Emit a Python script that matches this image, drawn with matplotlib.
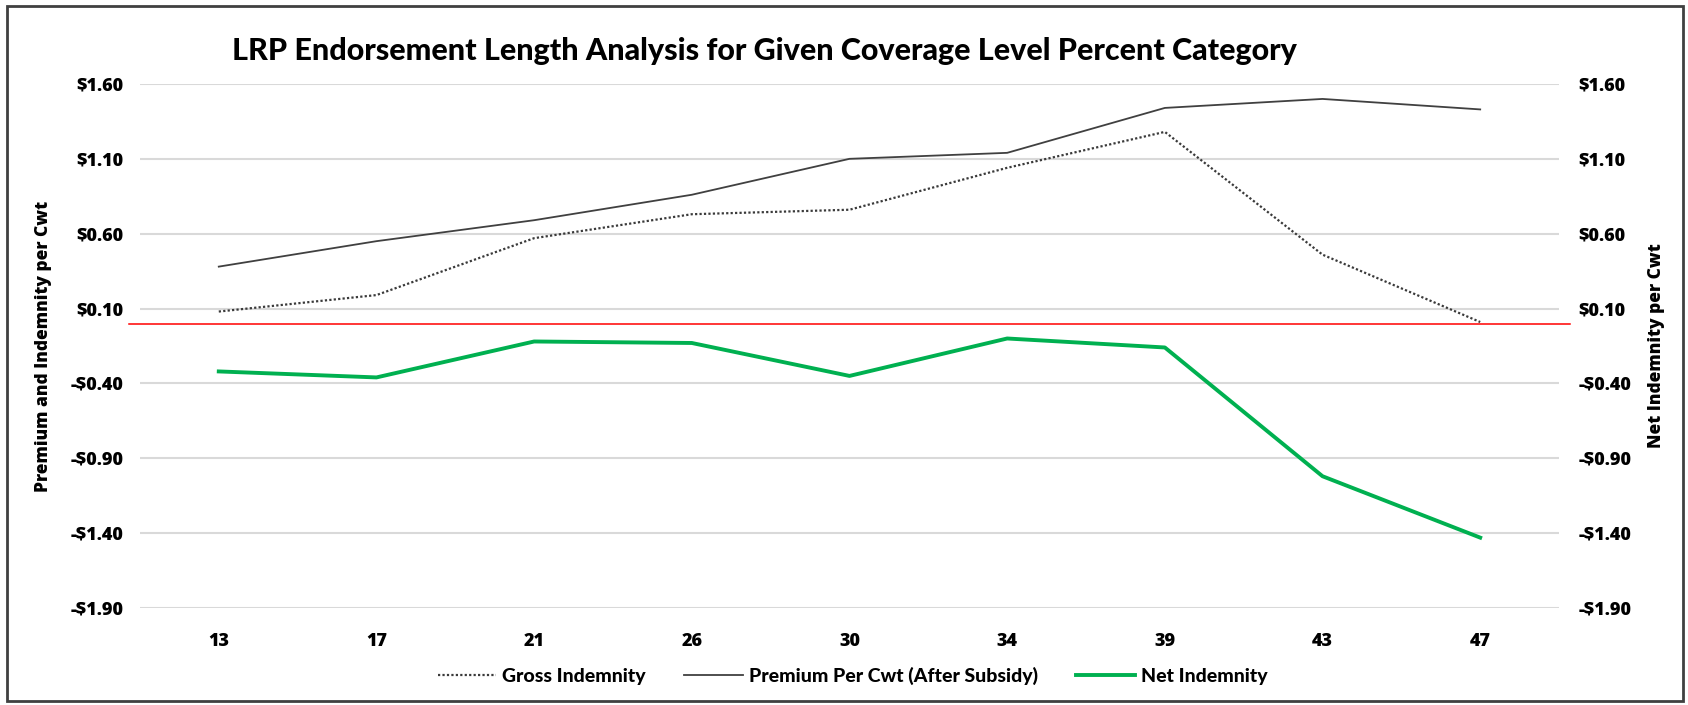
import matplotlib
matplotlib.use('Agg')
import matplotlib.pyplot as plt
import matplotlib.transforms as mtransforms
from matplotlib.patches import Rectangle
from matplotlib.ticker import FuncFormatter

# Endorsement length (weeks) and per-cwt values
lengths = ['13', '17', '21', '26', '30', '34', '39', '43', '47']
gross_indemnity = [0.08, 0.19, 0.57, 0.73, 0.76, 1.04, 1.28, 0.46, 0.01]
premium_per_cwt = [0.38, 0.55, 0.69, 0.86, 1.10, 1.14, 1.44, 1.50, 1.43]
net_indemnity = [-0.32, -0.36, -0.12, -0.13, -0.35, -0.10, -0.16, -1.02, -1.43]

y_ticks = [-1.90, -1.40, -0.90, -0.40, 0.10, 0.60, 1.10, 1.60]

plt.rcParams['font.family'] = ['Open Sans', 'DejaVu Sans']
plt.rcParams['font.weight'] = 'heavy'

fig = plt.figure(figsize=(16.88, 7.05), dpi=100)
ax = fig.add_axes([0.0829, 0.1376, 0.8407, 0.7433])

x = list(range(len(lengths)))
ax.plot(x, gross_indemnity, color='#3a3a3a', linestyle=(0, (1, 1)), linewidth=1.6,
        label='Gross Indemnity', zorder=3)
ax.plot(x, premium_per_cwt, color='#404040', linewidth=1.3,
        label='Premium Per Cwt (After Subsidy)', zorder=3)

ax2 = ax.twinx()
ax2.plot(x, net_indemnity, color='#00B050', linewidth=2.8, label='Net Indemnity', zorder=3)

def money(v, pos):
    return f'-${abs(v):.2f}' if v < 0 else f'${v:.2f}'

for a in (ax, ax2):
    a.set_xlim(-0.5, len(lengths) - 0.5)
    a.set_ylim(-1.90, 1.60)
    a.set_yticks(y_ticks)
    a.yaxis.set_major_formatter(FuncFormatter(money))
    a.tick_params(axis='both', length=0, labelsize=13)
    for s in a.spines.values():
        s.set_visible(False)

ax.set_xticks(x)
ax.set_xticklabels(lengths)
ax.tick_params(axis='x', pad=18)
ax.tick_params(axis='y', pad=12)
ax2.tick_params(axis='y', pad=14)
ax.grid(axis='y', color='#d9d9d9', linewidth=1.5)
ax.set_axisbelow(True)

# zero line runs a little past the plot edges
trans = mtransforms.blended_transform_factory(ax.transAxes, ax.transData)
ax.plot([-0.008, 1.008], [0, 0], color='red', linewidth=1.1, transform=trans,
        clip_on=False, zorder=2)

ax.set_ylabel('Premium and Indemnity per Cwt', fontsize=12.5, fontweight='heavy', labelpad=13)
ax2.set_ylabel('Net Indemnity per Cwt', fontsize=12.5, fontweight='heavy', labelpad=12)

fig.text(0.453, 0.928, 'LRP Endorsement Length Analysis for Given Coverage Level Percent Category',
         ha='center', va='center', fontsize=22, fontweight='black', family='Lato')

h1, l1 = ax.get_legend_handles_labels()
h2, l2 = ax2.get_legend_handles_labels()
fig.legend(h1 + h2, l1 + l2, loc='center', bbox_to_anchor=(0.505, 0.041), ncol=3,
           frameon=False, prop={'family': 'Lato', 'weight': 'black', 'size': 14},
           handlelength=3.0, handletextpad=0.3, columnspacing=2.0)

# outer border
fig.patches.append(Rectangle((0.004, 0.006), 0.993, 0.986, transform=fig.transFigure,
                             fill=False, edgecolor='#404040', linewidth=2))

fig.savefig('out.png', dpi=100)
